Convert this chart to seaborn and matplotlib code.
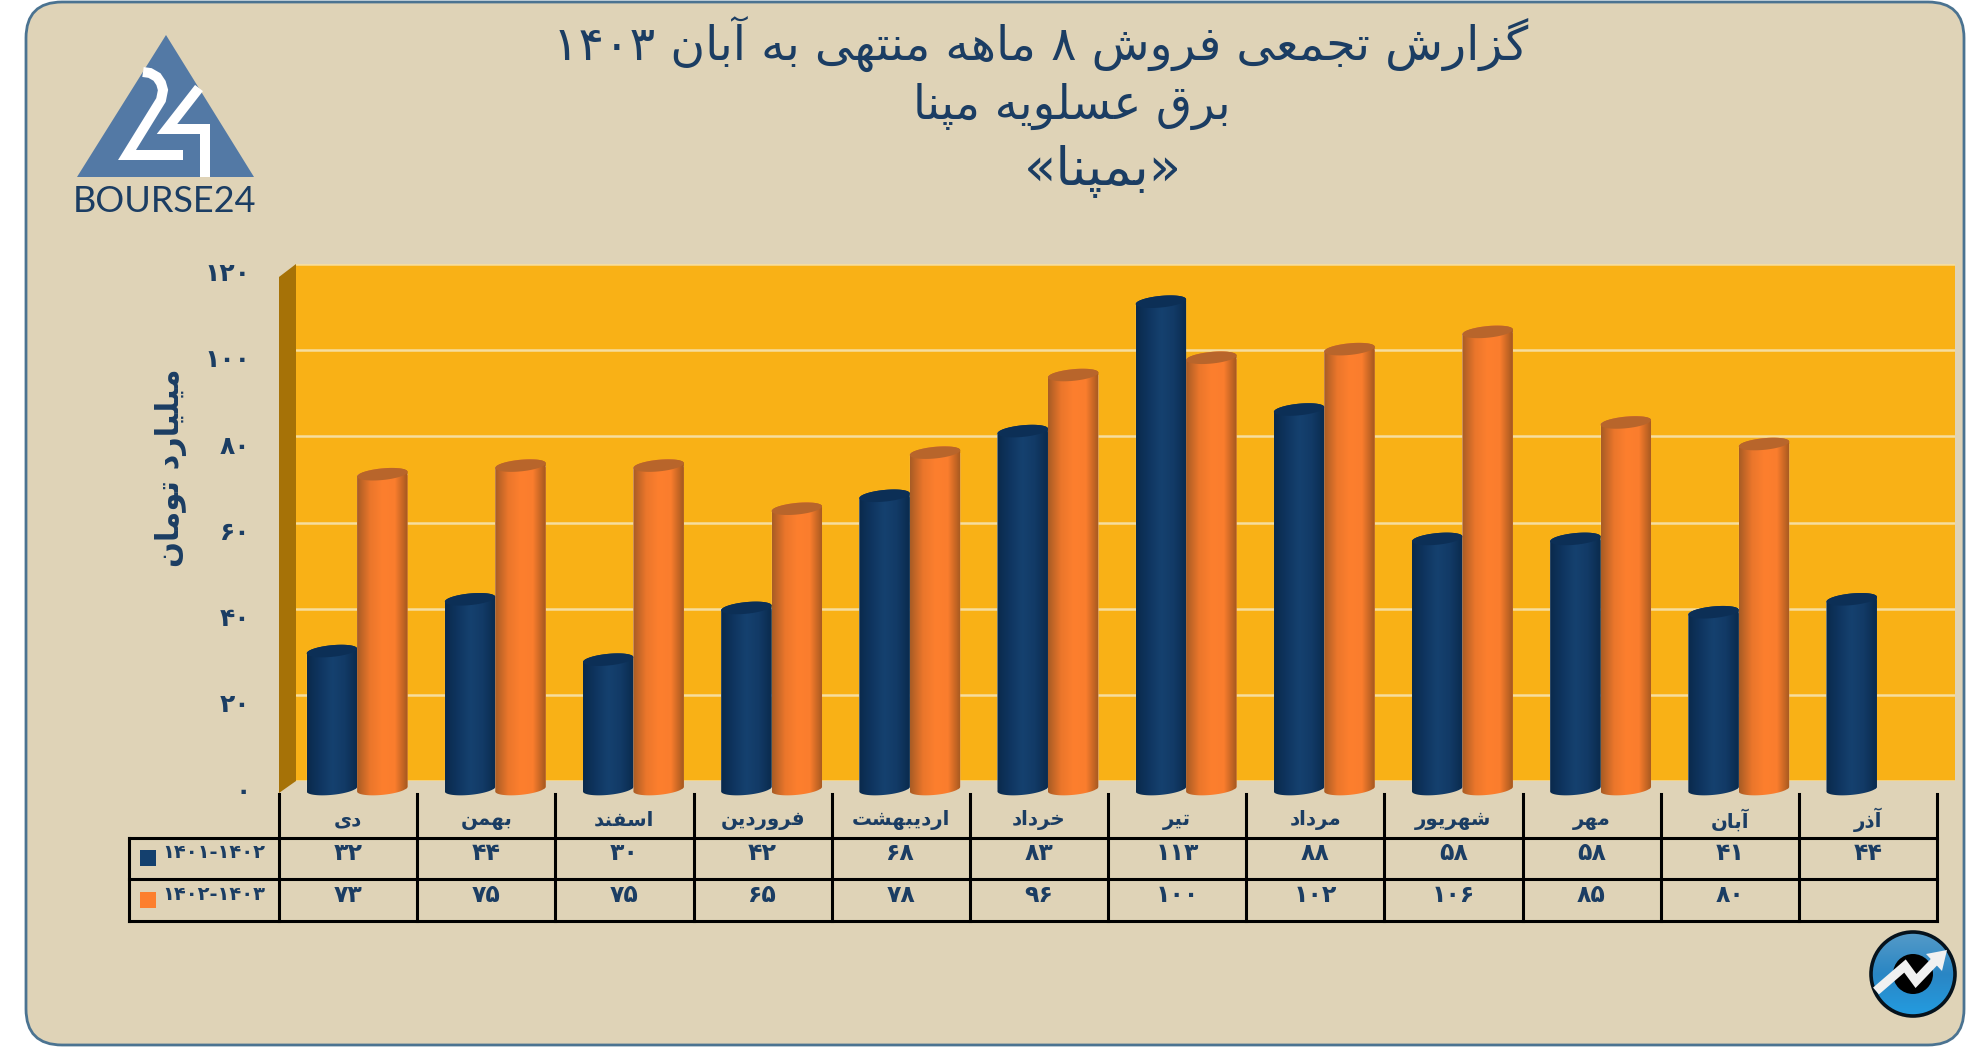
import re

import matplotlib.pyplot as plt
import numpy as np
import pandas as pd
import seaborn as sns
from matplotlib.colors import LinearSegmentedColormap
from matplotlib.patches import Circle, FancyBboxPatch, Polygon, Rectangle

months = ["دی", "بهمن", "اسفند", "فروردین", "اردیبهشت", "خرداد", "تیر", "مرداد", "شهریور", "مهر", "آبان", "آذر"]
sales_1401 = [32, 44, 30, 42, 68, 83, 113, 88, 58, 58, 41, 44]
sales_1402 = [73, 75, 75, 65, 78, 96, 100, 102, 106, 85, 80, np.nan]
series_names = ["۱۴۰۱-۱۴۰۲", "۱۴۰۲-۱۴۰۳"]
y_ticks = [0, 20, 40, 60, 80, 100, 120]
title_lines = ["گزارش تجمعی فروش ۸ ماهه منتهی به آبان ۱۴۰۳", "برق عسلویه مپنا", "«بمپنا»"]
y_label = "میلیارد تومان"

NAVY = "#1b3d63"
BG = "#dfd3b7"

sns.set_theme(style="white")
plt.rcParams["font.family"] = ["DejaVu Sans"]

# matplotlib has no arabic shaping, so pick presentation forms by hand
# letter: isolated, final, initial, medial
FORMS = {
    "ا": "\ufe8d\ufe8e", "آ": "\ufe81\ufe82", "د": "\ufea9\ufeaa", "ذ": "\ufeab\ufeac",
    "ر": "\ufead\ufeae", "ز": "\ufeaf\ufeb0", "و": "\ufeed\ufeee",
    "ب": "\ufe8f\ufe90\ufe91\ufe92", "پ": "\ufb56\ufb57\ufb58\ufb59", "ت": "\ufe95\ufe96\ufe97\ufe98",
    "ج": "\ufe9d\ufe9e\ufe9f\ufea0", "خ": "\ufea5\ufea6\ufea7\ufea8", "س": "\ufeb1\ufeb2\ufeb3\ufeb4",
    "ش": "\ufeb5\ufeb6\ufeb7\ufeb8", "ع": "\ufec9\ufeca\ufecb\ufecc", "ف": "\ufed1\ufed2\ufed3\ufed4",
    "ق": "\ufed5\ufed6\ufed7\ufed8", "گ": "\ufb92\ufb93\ufb94\ufb95", "ل": "\ufedd\ufede\ufedf\ufee0",
    "م": "\ufee1\ufee2\ufee3\ufee4", "ن": "\ufee5\ufee6\ufee7\ufee8", "ه": "\ufee9\ufeea\ufeeb\ufeec",
    "ی": "\ufbfc\ufbfd\ufbfe\ufbff",
}
MIRROR = {"«": "»", "»": "«"}


def rtl(text):
    shaped = []
    for i, ch in enumerate(text):
        if ch not in FORMS:
            shaped.append(MIRROR.get(ch, ch))
            continue
        prev_ch = text[i - 1] if i else ""
        next_ch = text[i + 1] if i + 1 < len(text) else ""
        joins_prev = len(FORMS.get(prev_ch, "")) == 4
        joins_next = next_ch in FORMS and len(FORMS[ch]) == 4
        idx = {(False, False): 0, (True, False): 1, (False, True): 2, (True, True): 3}[(joins_prev, joins_next)]
        shaped.append(FORMS[ch][idx])
    runs = re.findall(r"[۰-۹\-]+|.", "".join(shaped))
    return "".join(reversed(runs))


def fa_num(value):
    if pd.isna(value):
        return ""
    return str(int(value)).translate(str.maketrans("0123456789", "۰۱۲۳۴۵۶۷۸۹"))


W, H = 1986, 1047
fig = plt.figure(figsize=(W / 100, H / 100), dpi=100, facecolor="white")


def px_axes(x0, y0, x1, y1, **kw):
    return fig.add_axes([x0 / W, 1 - y1 / H, (x1 - x0) / W, (y1 - y0) / H], **kw)


# page layer in pixel coordinates
page = fig.add_axes([0, 0, 1, 1], zorder=0)
page.set_xlim(0, W)
page.set_ylim(H, 0)
page.axis("off")
page.add_patch(FancyBboxPatch((26, 2), 1938, 1043, boxstyle="round,pad=0,rounding_size=36",
                              fc=BG, ec="#4b7391", lw=2))

for line, (cx, cy, size) in zip(title_lines, [(1041, 44, 34.2), (1072, 106, 33.5), (1103, 171, 38)]):
    page.text(cx, cy, rtl(line), ha="center", va="center", fontsize=size, color=NAVY)

# logo
page.add_patch(Polygon([(166, 35), (77, 177), (254, 177)], fc="#5379a5", ec="none"))
page.plot([143, 150, 157, 161, 163, 161, 127, 183], [72, 73, 77, 83, 90, 100, 155, 155], color="white", lw=7.2,
          solid_capstyle="butt", solid_joinstyle="miter")
page.plot([199, 167, 205, 205], [88, 129, 129, 177], color="white", lw=7.2,
          solid_capstyle="butt", solid_joinstyle="miter")
page.text(165, 201, "BOURSE24", ha="center", va="center", fontsize=26, color=NAVY, family="Lato")

# back and side walls
page.add_patch(Polygon([(279, 277), (296, 264), (296, 781), (279, 793)], fc="#a67207", ec="none"))
wall = px_axes(296, 264, 1955, 781, zorder=1)
wall.set_facecolor("#f9b116")
wall.set_ylim(0, 120)
wall.set_xlim(0, 1)
wall.set_yticks(y_ticks)
wall.set_xticks([])
wall.tick_params(left=False, labelleft=False)
wall.grid(axis="y", color="#f6dd9f", lw=1.8)
sns.despine(ax=wall, left=True, bottom=True)

# bars
df = pd.DataFrame({"month": months * 2,
                   "sales": sales_1401 + sales_1402,
                   "period": [series_names[0]] * 12 + [series_names[1]] * 12})
ax = px_axes(288, 271.5, 1946, 802, zorder=2)
sns.barplot(data=df, x="month", y="sales", hue="period", order=months, hue_order=series_names,
            palette=["#14406e", "#fd7f2e"], width=0.73, gap=0, dodge=True, saturation=1,
            legend=False, ax=ax)
ax.patch.set_alpha(0)

GRADS = [LinearSegmentedColormap.from_list("blue", ["#0a2a4c", "#0f3560", "#15416f", "#123a66", "#0a2b4e"]),
         LinearSegmentedColormap.from_list("orange", ["#a95c25", "#ea762b", "#fd7f2e", "#fa7d2d", "#a5581f"])]
TOPS = ["#0c2f56", "#b8652b"]
RIM = 1.35  # half height of the cylinder ends, in value units
TILT = 0.55  # right side of the ends sits a bit higher

for order, (container, cmap, top) in enumerate(zip(ax.containers, GRADS, TOPS)):
    for bar in container:
        h = bar.get_height()
        if np.isnan(h):
            continue
        x0, w = bar.get_x(), bar.get_width()
        cx, a = x0 + w / 2, w / 2
        t = np.linspace(np.pi, 2 * np.pi, 40)
        low = np.c_[cx + a * np.cos(t), RIM * np.sin(t) + TILT * np.cos(t)]
        t = np.linspace(0, np.pi, 40)
        high = np.c_[cx + a * np.cos(t), h + RIM * np.sin(t) + TILT * np.cos(t)]
        outline = Polygon(np.r_[low, high], fc="none", ec="none", zorder=3 + order)
        ax.add_patch(outline)
        im = ax.imshow(np.linspace(0, 1, 64)[None, :], cmap=cmap, extent=(x0, x0 + w, -RIM - TILT, h + RIM + TILT),
                       aspect="auto", zorder=3 + order)
        im.set_clip_path(outline)
        bar.set_clip_path(outline)
        t = np.linspace(0, 2 * np.pi, 80)
        ax.add_patch(Polygon(np.c_[cx + a * np.cos(t), h + RIM * np.sin(t) + TILT * np.cos(t)],
                             fc=top, ec="none", zorder=3 + order))

ax.set_xlim(-0.5, 11.5)
ax.set_ylim(-3, 120)
ax.set_yticks(y_ticks, [fa_num(v) for v in y_ticks], fontweight="bold", fontsize=18, color=NAVY)
ax.set_xticks([])
ax.tick_params(left=False, pad=21)
ax.set_xlabel("")
ax.set_ylabel(rtl(y_label), fontweight="bold", fontsize=22, color=NAVY)
ax.yaxis.set_label_coords((187 - 288) / (1946 - 288), (802 - 468) / (802 - 271.5))
sns.despine(ax=ax, left=True, bottom=True)

# data table under the chart
left, first, right = 129, 279, 1937
rows = [838, 879, 921]
col_w = (right - first) / len(months)
line_kw = dict(color="black", lw=2.2, solid_capstyle="projecting")
for y in rows:
    page.plot([left, right], [y, y], **line_kw)
for x in [left, first]:
    page.plot([x, x], [rows[0] if x == left else 794, rows[2]], **line_kw)
for i in range(1, len(months) + 1):
    page.plot([first + i * col_w] * 2, [794, rows[2]], **line_kw)

for i, month in enumerate(months):
    cx = first + (i + 0.5) * col_w
    page.text(cx, 820, rtl(month), ha="center", va="center", fontsize=14.2, fontweight="bold", color=NAVY)
    page.text(cx, 853, fa_num(sales_1401[i]), ha="center", va="center", fontsize=17, fontweight="bold", color=NAVY)
    page.text(cx, 895, fa_num(sales_1402[i]), ha="center", va="center", fontsize=17, fontweight="bold", color=NAVY)

for name, swatch, y in zip(series_names, ["#14406e", "#fd7f2e"], [853, 895]):
    page.add_patch(Rectangle((140, y - 3), 16, 16, fc=swatch, ec="none"))
    page.text(162, y, name, ha="left", va="center", fontsize=14, fontweight="bold", color=NAVY)

# round badge, bottom right
icon = px_axes(1863, 924, 1963, 1024, zorder=3)
icon.set_xlim(-50, 50)
icon.set_ylim(50, -50)
icon.axis("off")
yy, xx = np.mgrid[-50:50:200j, -50:50:200j]
shade = (yy + 50) / 100
badge_cmap = LinearSegmentedColormap.from_list("badge", ["#5d9fc9", "#2a86c4", "#22a0e6"])
disc = Circle((0, 0), 42, transform=icon.transData, fc="none")
icon.add_patch(disc)
badge = icon.imshow(shade, cmap=badge_cmap, extent=(-50, 50, 50, -50), aspect="auto")
badge.set_clip_path(disc)
icon.add_patch(Circle((0, 0), 42, fc="none", ec="#06121c", lw=2.6))
icon.add_patch(Circle((0, 0), 20, fc="black", ec="none"))
icon.plot([-37, -8, 3, 23], [17, -8, 7, -14], color="#f1f1f1", lw=6.5, solid_joinstyle="miter", solid_capstyle="butt")
icon.add_patch(Polygon([(34, -24), (13, -20), (29, -3)], fc="#f1f1f1", ec="none"))

fig.savefig("out.png", dpi=100)
